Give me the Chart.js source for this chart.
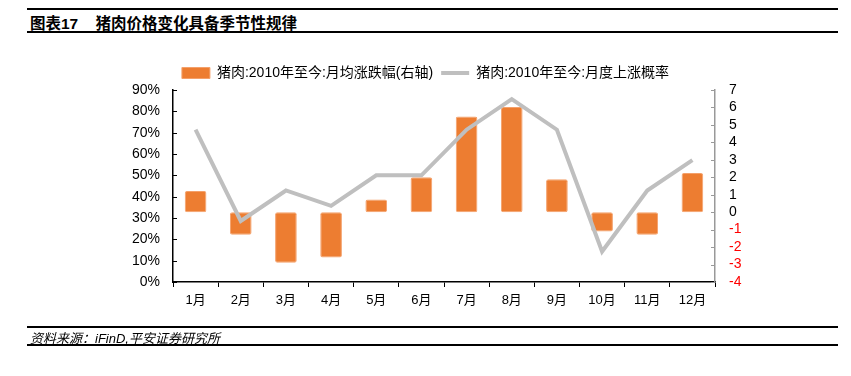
<!DOCTYPE html>
<html lang="zh">
  <head>
    <meta charset="UTF-8" />
    <title>猪肉价格变化具备季节性规律</title>
    <script src="https://cdn.jsdelivr.net/npm/chart.js"></script>
    <style>
      html, body { margin: 0; padding: 0; background: #fff; }
      #wrap { position: relative; width: 851px; height: 376px; overflow: hidden; }
      #porkChart { position: absolute; left: 0; top: 0; }
      .rule { position: absolute; left: 27px; width: 811px; background: #000; }
      .title {
        position: absolute; left: 30px; top: 11px;
        font: bold 15.5px "Liberation Sans", "Noto Sans CJK SC", sans-serif;
        color: #000; white-space: pre;
      }
      .source {
        position: absolute; left: 30px; top: 328px;
        font: italic 13px "Liberation Sans", "Noto Sans CJK SC", sans-serif;
        color: #000;
      }
    </style>
  </head>
  <body>
    <div id="wrap">
      <div class="rule" style="top: 8px; height: 1.5px"></div>
      <div class="title">图表17    猪肉价格变化具备季节性规律</div>
      <div class="rule" style="top: 31px; height: 2px"></div>
      <canvas id="porkChart" width="851" height="376"></canvas>
      <div class="rule" style="top: 326px; height: 1.5px"></div>
      <div class="source">资料来源：iFinD,平安证券研究所</div>
      <div class="rule" style="top: 344px; height: 2px"></div>
    </div>
    <script>
      // data
      const months = ["1月", "2月", "3月", "4月", "5月", "6月", "7月", "8月", "9月", "10月", "11月", "12月"];
      const avgChange = [1.22, -1.3, -2.9, -2.6, 0.72, 2.0, 5.48, 6.02, 1.88, -1.1, -1.3, 2.24]; // 月均涨跌幅 (右轴)
      const upProb = [71.4, 28.6, 42.9, 35.7, 50, 50, 71.4, 85.7, 71.4, 14.3, 42.9, 57.1]; // 月度上涨概率 %

      const FONT = '"Liberation Sans", "Noto Sans CJK SC", sans-serif';

      // short tick marks pointing into the plot, like the original
      const innerTicks = {
        id: "innerTicks",
        afterDatasetsDraw(chart) {
          const ctx = chart.ctx;
          const area = chart.chartArea;
          const len = 4;
          ctx.save();
          ctx.lineWidth = 1;
          const left = chart.scales.y;
          ctx.strokeStyle = "#000";
          left.ticks.forEach((t) => {
            const py = Math.round(left.getPixelForValue(t.value)) + 0.5;
            ctx.beginPath();
            ctx.moveTo(area.left, py);
            ctx.lineTo(area.left + len, py);
            ctx.stroke();
          });
          const right = chart.scales.y1;
          ctx.strokeStyle = "#999";
          right.ticks.forEach((t) => {
            const py = Math.round(right.getPixelForValue(t.value)) + 0.5;
            ctx.beginPath();
            ctx.moveTo(area.right, py);
            ctx.lineTo(area.right - len, py);
            ctx.stroke();
          });
          ctx.restore();
        },
      };

      new Chart(document.getElementById("porkChart").getContext("2d"), {
        data: {
          labels: months,
          datasets: [
            {
              type: "bar",
              label: "猪肉:2010年至今:月均涨跌幅(右轴)",
              data: avgChange,
              yAxisID: "y1",
              backgroundColor: "#ED7D31",
              borderColor: "#F4A06A",
              borderWidth: 1,
              borderSkipped: false,
              borderRadius: 2,
              barPercentage: 0.48,
              categoryPercentage: 1,
              order: 2,
              pointStyle: "rect",
            },
            {
              type: "line",
              label: "猪肉:2010年至今:月度上涨概率",
              data: upProb,
              yAxisID: "y",
              borderColor: "#BFBFBF",
              backgroundColor: "#BFBFBF",
              borderWidth: 4,
              pointRadius: 0,
              tension: 0,
              order: 1,
              pointStyle: "line",
            },
          ],
        },
        options: {
          responsive: false,
          animation: false,
          layout: { padding: { top: 58, left: 0, right: 0, bottom: 64 } },
          plugins: {
            tooltip: { enabled: false },
            legend: {
              display: true,
              position: "top",
              labels: {
                usePointStyle: true,
                pointStyleWidth: 28,
                boxWidth: 28,
                boxHeight: 11,
                padding: 8,
                color: "#000",
                font: { family: FONT, size: 14 },
                sort: (a, b) => a.datasetIndex - b.datasetIndex,
              },
            },
          },
          scales: {
            x: {
              offset: true,
              grid: {
                offset: true,
                drawOnChartArea: false,
                drawTicks: true,
                tickLength: 5,
                color: "#000",
              },
              border: { color: "#000", width: 1.5 },
              ticks: { color: "#000", padding: 6, font: { family: FONT, size: 13 }, maxRotation: 0 },
              afterFit: (s) => { s.height = 30; },
            },
            y: {
              position: "left",
              min: 0,
              max: 90,
              grid: { display: false, drawTicks: false },
              border: { color: "#000", width: 1.5 },
              ticks: {
                stepSize: 10,
                autoSkip: false,
                padding: 13,
                color: "#000",
                font: { family: FONT, size: 14 },
                callback: (v) => v + "%",
              },
              afterFit: (s) => { s.width = 173; },
            },
            y1: {
              position: "right",
              min: -4,
              max: 7,
              grid: { display: false, drawTicks: false },
              border: { color: "#999", width: 1.5 },
              ticks: {
                stepSize: 1,
                autoSkip: false,
                padding: 14,
                font: { family: FONT, size: 14 },
                color: (c) => (c.tick.value < 0 ? "#FF0000" : "#000"),
              },
              afterFit: (s) => { s.width = 136; },
            },
          },
        },
        plugins: [innerTicks],
      });
    </script>
  </body>
</html>
